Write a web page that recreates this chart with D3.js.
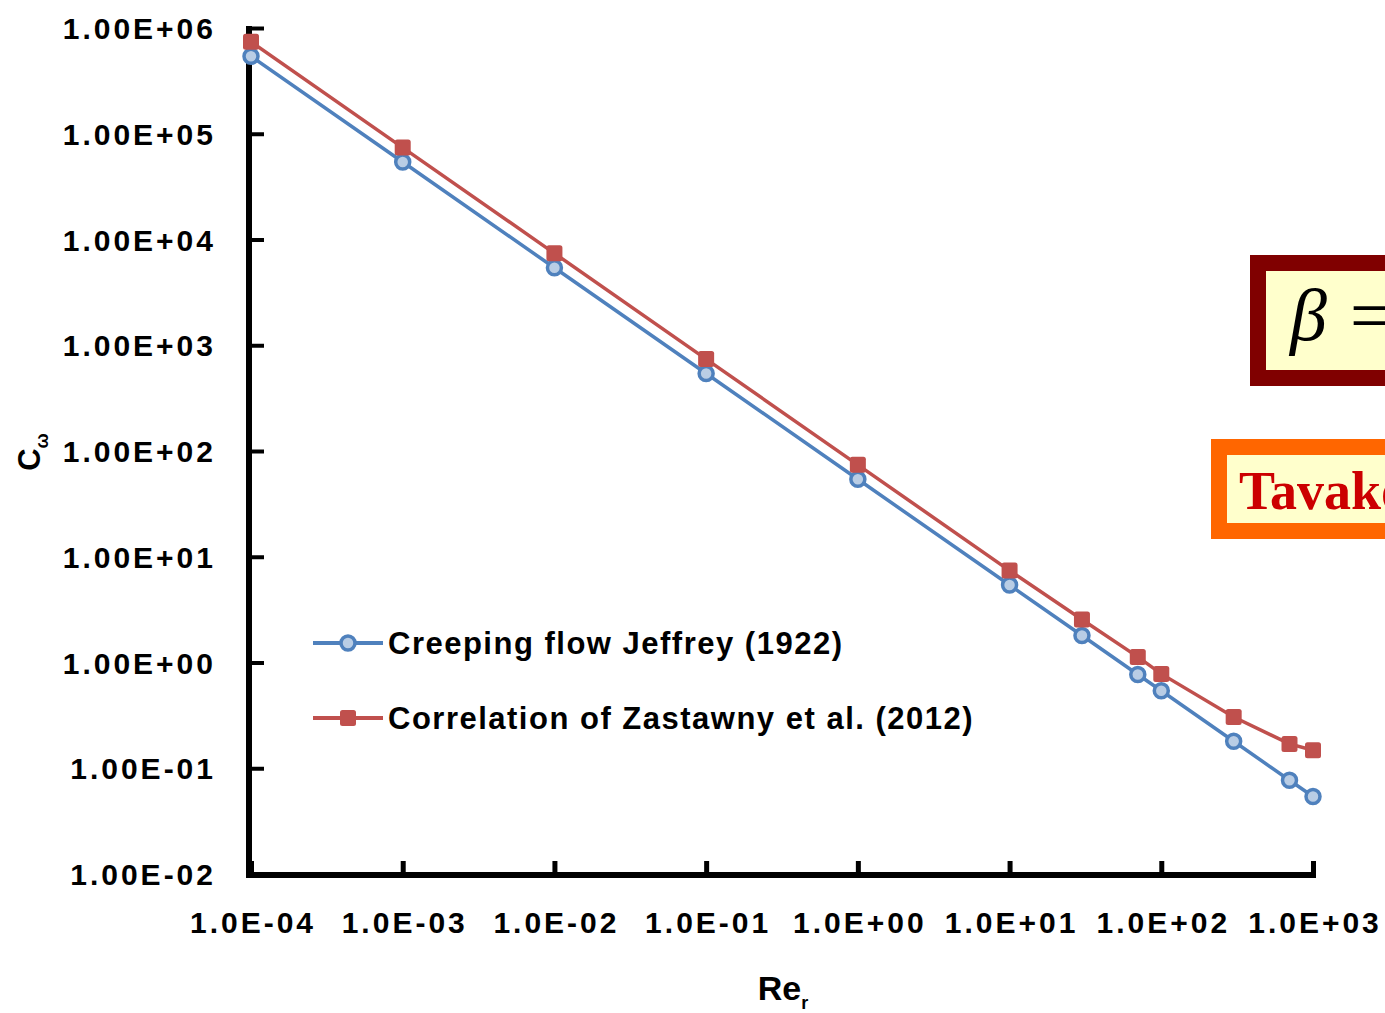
<!DOCTYPE html>
<html>
<head>
<meta charset="utf-8">
<script src="https://cdn.jsdelivr.net/npm/d3@7"></script>
<style>
  html, body { margin: 0; padding: 0; background: #fff; overflow: hidden; }
  svg { display: block; }
  .tick-label { font-family: "Liberation Sans", Arial, sans-serif; font-weight: bold; font-size: 30px; fill: #000; letter-spacing: 3px; }
  .legend-label { font-family: "Liberation Sans", Arial, sans-serif; font-size: 31px; fill: #000; }
</style>
</head>
<body>
<svg id="chart" width="1385" height="1013"></svg>
<script>
// Rotational coefficient against rotational Reynolds number
const reynolds = [1e-4, 1e-3, 1e-2, 1e-1, 1, 10, 30, 70, 100, 300, 700, 1000];
const jeffrey = [5.4e5, 5.4e4, 5.4e3, 540, 54, 5.4, 1.8, 0.77, 0.54, 0.18, 0.077, 0.054];
const zastawny = [7.4e5, 7.4e4, 7.4e3, 740, 74, 7.4, 2.55, 1.13, 0.78, 0.305, 0.17, 0.148];

const xTicks = [1e-4, 1e-3, 1e-2, 1e-1, 1, 10, 100, 1000];
const xTickLabels = ["1.0E-04", "1.0E-03", "1.0E-02", "1.0E-01", "1.0E+00", "1.0E+01", "1.0E+02", "1.0E+03"];
const yTicks = [1e-2, 1e-1, 1, 10, 100, 1e3, 1e4, 1e5, 1e6];
const yTickLabels = ["1.00E-02", "1.00E-01", "1.00E+00", "1.00E+01", "1.00E+02", "1.00E+03", "1.00E+04", "1.00E+05", "1.00E+06"];

const seriesNames = ["Creeping flow Jeffrey (1922)", "Correlation of Zastawny et al. (2012)"];
const seriesColors = ["#4f81bd", "#c0504d"];

const svg = d3.select("#chart");

const x = d3.scaleLog().domain([1e-4, 1e3]).range([251, 1313]);
const y = d3.scaleLog().domain([1e-2, 1e6]).range([874, 28]);

// Axes: thick black spines with short inward ticks
const xAxis = d3.axisBottom(x).tickValues(xTicks).tickSize(0).tickFormat((d, i) => xTickLabels[i]);
const gx = svg.append("g").attr("transform", "translate(0,875)").call(xAxis);
gx.select(".domain").remove();
gx.selectAll(".tick text").attr("class", "tick-label").attr("dy", null).attr("y", 58).attr("dx", "1.5px");
gx.selectAll(".tick").append("line")
  .attr("x1", 0).attr("x2", 0).attr("y1", 0).attr("y2", -14)
  .attr("stroke", "#000").attr("stroke-width", 5);

const yAxis = d3.axisLeft(y).tickValues(yTicks).tickSize(0).tickFormat((d, i) => yTickLabels[i]);
const gy = svg.append("g").attr("transform", "translate(249,0)").call(yAxis);
gy.select(".domain").remove();
gy.selectAll(".tick text").attr("class", "tick-label").attr("x", -33).attr("dy", "0.35em");
gy.selectAll(".tick").append("line")
  .attr("x1", 0).attr("x2", 15).attr("y1", 0).attr("y2", 0)
  .attr("stroke", "#000").attr("stroke-width", 4);

svg.append("line").attr("x1", 249).attr("x2", 249).attr("y1", 26).attr("y2", 878)
  .attr("stroke", "#000").attr("stroke-width", 6);
svg.append("line").attr("x1", 246).attr("x2", 1316).attr("y1", 875).attr("y2", 875)
  .attr("stroke", "#000").attr("stroke-width", 6);

// Series lines and markers
const line = d3.line().x(d => x(d[0])).y(d => y(d[1]));
const seriesData = [
  reynolds.map((r, i) => [r, jeffrey[i]]),
  reynolds.map((r, i) => [r, zastawny[i]])
];

function drawMarker(g, k, cx, cy) {
  if (k === 0) {
    g.append("circle").attr("cx", cx).attr("cy", cy).attr("r", 7)
      .attr("fill", "#b9cde5").attr("stroke", seriesColors[0]).attr("stroke-width", 3.5);
  } else {
    g.append("rect").attr("x", cx - 8).attr("y", cy - 8).attr("width", 16).attr("height", 16)
      .attr("rx", 2.5).attr("fill", seriesColors[1]);
  }
}

seriesData.forEach((data, k) => {
  const g = svg.append("g");
  g.append("path").datum(data).attr("d", line)
    .attr("fill", "none").attr("stroke", seriesColors[k]).attr("stroke-width", 3.5);
  data.forEach(d => drawMarker(g, k, x(d[0]), y(d[1])));
});

// Legend
const legendY = [643, 718];
seriesNames.forEach((name, k) => {
  const g = svg.append("g");
  g.append("line").attr("x1", 313).attr("x2", 383).attr("y1", legendY[k]).attr("y2", legendY[k])
    .attr("stroke", seriesColors[k]).attr("stroke-width", 4);
  drawMarker(g, k, 348, legendY[k]);
  g.append("text").attr("class", "legend-label").attr("x", 388).attr("y", legendY[k]).attr("dy", "0.35em")
    .attr("font-weight", "bold").attr("letter-spacing", "1.5px").text(name);
});

// Axis titles
const yTitle = svg.append("text").attr("transform", "translate(40,452) rotate(-90)")
  .attr("text-anchor", "middle")
  .style("font-family", "Liberation Sans, Arial, sans-serif").style("font-weight", "bold").style("font-size", "31px");
yTitle.append("tspan").text("C");
yTitle.append("tspan").attr("dy", 8).style("font-size", "18px").text("ω");

const xTitle = svg.append("text").attr("x", 783).attr("y", 1000)
  .attr("text-anchor", "middle")
  .style("font-family", "Liberation Sans, Arial, sans-serif").style("font-weight", "bold").style("font-size", "34px");
xTitle.append("tspan").text("Re");
xTitle.append("tspan").attr("dy", 9).style("font-size", "18px").text("r");

// Annotation boxes at the right edge
svg.append("rect").attr("x", 1258).attr("y", 263).attr("width", 400).attr("height", 115)
  .attr("fill", "#ffffcc").attr("stroke", "#800000").attr("stroke-width", 16);
svg.append("text").attr("x", 1290).attr("y", 340)
  .style("font-family", "Liberation Serif, Times New Roman, serif").style("font-style", "italic")
  .style("font-size", "74px").attr("fill", "#000").text("β =");

svg.append("rect").attr("x", 1219).attr("y", 447).attr("width", 400).attr("height", 84)
  .attr("fill", "#ffffcc").attr("stroke", "#ff6600").attr("stroke-width", 16);
svg.append("text").attr("x", 1239).attr("y", 509)
  .style("font-family", "Liberation Serif, Times New Roman, serif").style("font-weight", "bold")
  .style("font-size", "54px").attr("fill", "#cc0000").text("Tavakoli");
</script>
</body>
</html>
